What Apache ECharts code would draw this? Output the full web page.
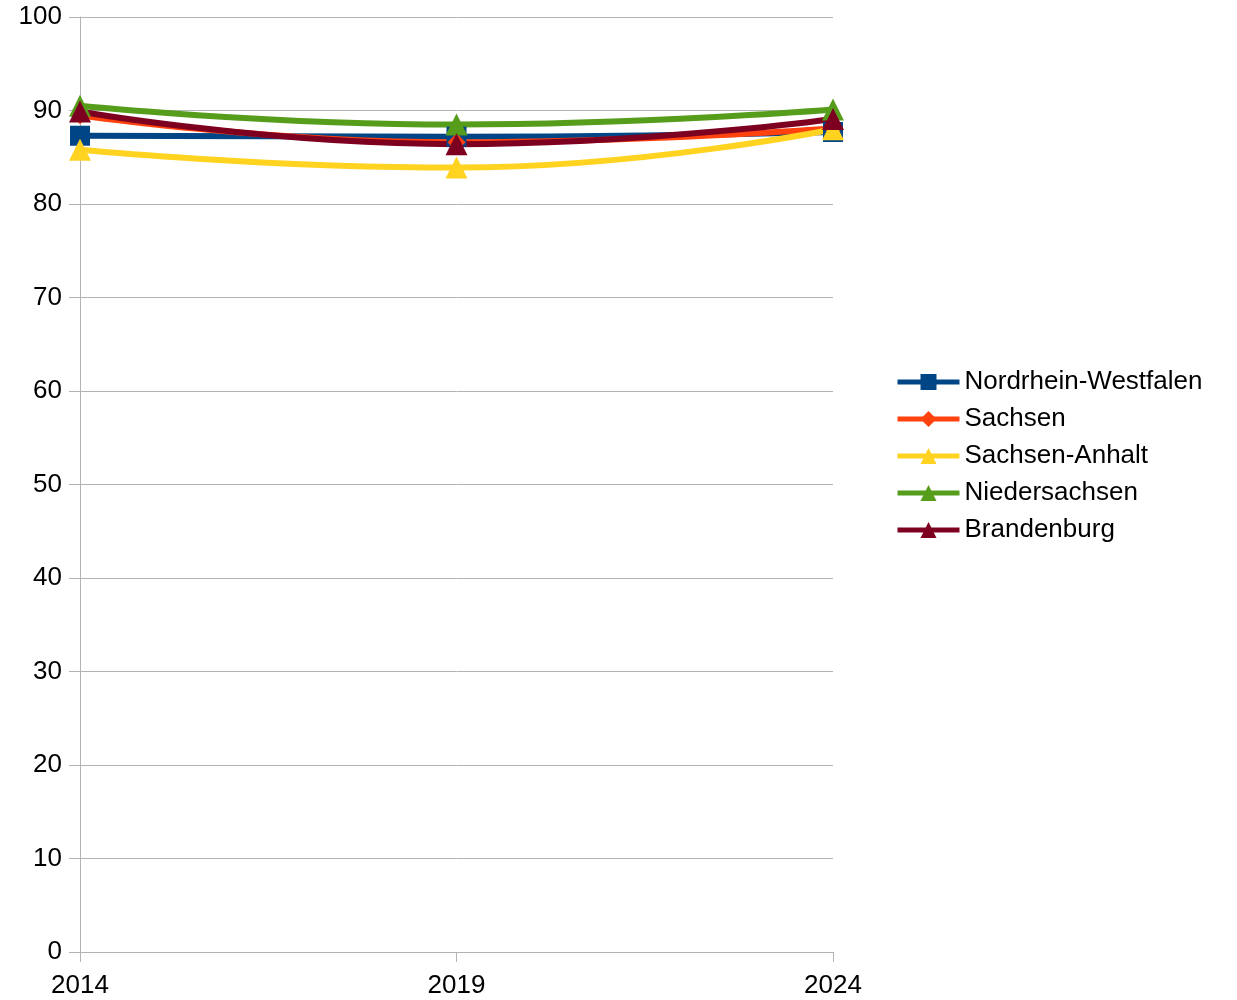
<!DOCTYPE html>
<html><head><meta charset="utf-8">
<script src="https://cdn.jsdelivr.net/npm/echarts@6/dist/echarts.min.js"></script>
<style>html,body{margin:0;padding:0;background:#fff}#c{width:1237px;height:1000px}</style>
</head><body><div id="c"></div>
<script>
const years = ['2014', '2019', '2024'];
const nrw = [87.3, 87.2, 87.7];
const sachsen = [89.5, 86.6, 88.1];
const sachsenAnhalt = [85.8, 83.9, 88.0];
const niedersachsen = [90.5, 88.5, 90.1];
const brandenburg = [89.9, 86.4, 89.1];

const font = 'Liberation Sans, Arial, sans-serif';
function mk(name, data, color, symbol, size) {
  return {
    name, type: 'line', data, smooth: 0.5, symbol, symbolSize: size,
    lineStyle: {color, width: 6}, itemStyle: {color},
    emphasis: {disabled: true}
  };
}
const chart = echarts.init(document.getElementById('c'));
chart.setOption({
  animation: false,
  grid: {left: 80, right: 404, top: 17, bottom: 48, containLabel: false},
  xAxis: {
    type: 'category', data: years, boundaryGap: false,
    axisLine: {lineStyle: {color: '#b3b3b3', width: 1}},
    axisTick: {show: true, length: 10, lineStyle: {color: '#b3b3b3'}, alignWithLabel: true},
    axisLabel: {color: '#000', fontSize: 26, fontFamily: font, margin: 21},
    splitLine: {show: false}
  },
  yAxis: {
    type: 'value', min: 0, max: 100, interval: 10,
    axisLine: {show: true, lineStyle: {color: '#b3b3b3', width: 1}},
    axisTick: {show: true, length: 11, lineStyle: {color: '#b3b3b3'}},
    axisLabel: {color: '#000', fontSize: 26, fontFamily: font, margin: 18},
    splitLine: {show: true, lineStyle: {color: '#b3b3b3', width: 1}}
  },
  legend: {
    orient: 'vertical', left: 890, top: 364, itemGap: 11,
    itemWidth: 62, itemHeight: 20,
    lineStyle: {width: 5},
    textStyle: {color: '#000', fontSize: 26, fontFamily: font, lineHeight: 26},
    data: ['Nordrhein-Westfalen', 'Sachsen', 'Sachsen-Anhalt', 'Niedersachsen', 'Brandenburg']
  },
  series: [
    mk('Nordrhein-Westfalen', nrw, '#004586', 'rect', 20),
    mk('Sachsen', sachsen, '#ff420e', 'diamond', 18),
    mk('Sachsen-Anhalt', sachsenAnhalt, '#ffd320', 'triangle', 22),
    mk('Niedersachsen', niedersachsen, '#579d1c', 'triangle', 22),
    mk('Brandenburg', brandenburg, '#7e0021', 'triangle', 22)
  ]
});
</script></body></html>
